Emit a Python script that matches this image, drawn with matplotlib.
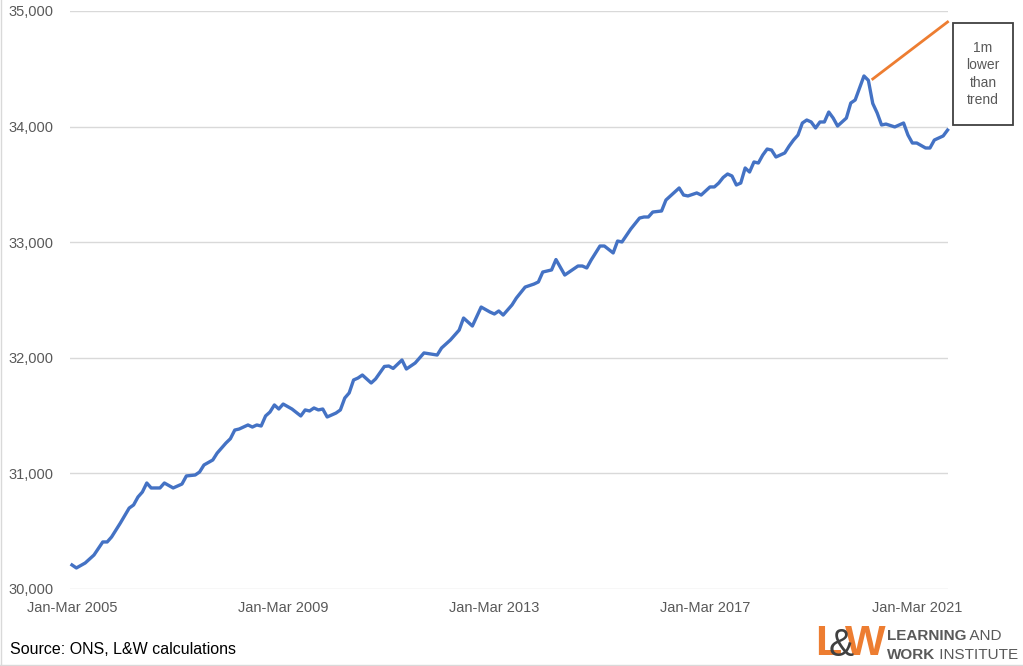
import matplotlib
matplotlib.use('Agg')
import matplotlib.pyplot as plt
from matplotlib.patches import Rectangle
from matplotlib.lines import Line2D
from matplotlib.ticker import FuncFormatter

plt.rcParams['font.family'] = ['Liberation Sans', 'DejaVu Sans']

# Данные: номер месяца от Jan-Mar 2005 и занятость (тыс.)
months = [0, 1, 3, 5, 7, 8, 9, 11, 13, 14, 15, 16, 17, 18, 20, 21, 23, 25, 26, 28,
          29, 30, 32, 33, 35, 36, 37, 38, 40, 41, 42, 43, 44, 45, 46, 47, 48, 50, 52, 53,
          54, 55, 56, 57, 58, 60, 61, 62, 63, 64, 65, 66, 68, 69, 71, 72, 73, 75, 76, 78,
          80, 83, 84, 86, 88, 89, 90, 91, 93, 95, 96, 97, 98, 100, 101, 103, 105, 106, 107, 109,
          110, 112, 115, 116, 117, 118, 120, 121, 123, 124, 125, 127, 129, 130, 131, 132, 134, 135, 136, 138,
          139, 140, 142, 143, 145, 146, 147, 148, 149, 150, 151, 152, 153, 154, 155, 156, 157, 158, 159, 160,
          162, 163, 164, 165, 166, 167, 168, 169, 170, 171, 172, 173, 174, 175, 176, 177, 178, 179, 180, 181,
          182, 183, 184, 185, 187, 189, 190, 191, 192, 194, 195, 196, 198, 199]
employment = [30208, 30182, 30225, 30294, 30407, 30407, 30450, 30571, 30700, 30727, 30796, 30839, 30917, 30874, 30874, 30917, 30874, 30908, 30978, 30986,
              31012, 31073, 31116, 31176, 31263, 31300, 31375, 31384, 31419, 31401, 31419, 31410, 31497, 31531, 31592, 31557, 31600, 31557, 31497, 31549,
              31540, 31566, 31549, 31557, 31488, 31522, 31549, 31652, 31696, 31808, 31825, 31851, 31782, 31817, 31925, 31929, 31908, 31981, 31903, 31955,
              32042, 32024, 32085, 32154, 32240, 32344, 32310, 32275, 32439, 32396, 32379, 32405, 32370, 32457, 32517, 32612, 32638, 32656, 32742, 32760,
              32850, 32716, 32794, 32794, 32777, 32846, 32967, 32967, 32907, 33010, 33002, 33114, 33209, 33218, 33218, 33261, 33270, 33365, 33400, 33469,
              33408, 33400, 33426, 33408, 33478, 33478, 33512, 33560, 33590, 33573, 33495, 33512, 33642, 33607, 33694, 33685, 33754, 33806, 33797, 33737,
              33772, 33832, 33884, 33927, 34031, 34057, 34040, 33988, 34040, 34040, 34126, 34074, 34005, 34040, 34074, 34204, 34230, 34334, 34438, 34400,
              34200, 34118, 34014, 34022, 33997, 34031, 33927, 33858, 33858, 33815, 33815, 33884, 33919, 33970]
assert len(months) == len(employment)

# Линия тренда
trend_months = [182, 199]
trend_values = [34412, 34905]

tick_pos = [0, 48, 96, 144, 192]
tick_labels = ['Jan-Mar 2005', 'Jan-Mar 2009', 'Jan-Mar 2013', 'Jan-Mar 2017', 'Jan-Mar 2021']
y_ticks = [30000, 31000, 32000, 33000, 34000, 35000]

W, H = 1023, 666
fig = plt.figure(figsize=(W / 100, H / 100), dpi=100)
ax = fig.add_axes([70 / W, 1 - 589 / H, (948 - 70) / W, (589 - 11) / H])

ax.plot(months, employment, color='#4472c4', linewidth=2.4, solid_joinstyle='round', clip_on=False)
ax.plot(trend_months, trend_values, color='#ed7d31', linewidth=2.0, clip_on=False)

ax.set_xlim(-0.45, 199.1)
ax.set_ylim(30000, 35000)
ax.set_yticks(y_ticks)
ax.yaxis.set_major_formatter(FuncFormatter(lambda v, p: f'{int(v):,}'))
ax.set_xticks(tick_pos)
ax.set_xticklabels(tick_labels)
ax.tick_params(axis='both', length=0, labelsize=10.5, colors='#595959')
ax.tick_params(axis='y', pad=12)
ax.tick_params(axis='x', pad=9)
ax.grid(axis='y', color='#d9d9d9', linewidth=1.0)
ax.set_axisbelow(True)
for s in ax.spines.values():
    s.set_visible(False)

# Подпись "1m lower than trend" в рамке
fig.patches.append(Rectangle((953 / W, 1 - 125 / H), 60 / W, 102 / H, transform=fig.transFigure,
                             fill=False, edgecolor='#404040', linewidth=1.3))
fig.text(983 / W, 1 - 74 / H, '1m\nlower\nthan\ntrend', ha='center', va='center',
         fontsize=10, color='#595959', linespacing=1.3)

# Источник
fig.text(10 / W, 1 - 650 / H, 'Source: ONS, L&W calculations', ha='left', va='center',
         fontsize=11.5, color='black')

# Логотип
fig.text(815 / W, 1 - 664 / H, 'L', fontsize=31, fontweight='bold', color='#ed7d31', ha='left', va='bottom')
fig.text(845 / W, 1 - 664 / H, 'W', fontsize=31, fontweight='bold', color='#ed7d31', ha='left', va='bottom')
fig.text(829 / W, 1 - 664 / H, '&', fontsize=27, color='#404040', ha='left', va='bottom')

renderer = fig.canvas.get_renderer()
for bold, rest, yc in [('LEARNING', ' AND', 636), ('WORK', ' INSTITUTE', 655)]:
    t = fig.text(887 / W, 1 - yc / H, bold, fontsize=11, fontweight='bold', color='#595959',
                 ha='left', va='center')
    bb = t.get_window_extent(renderer)
    fig.text(bb.x1 / W, 1 - yc / H, rest, fontsize=11, color='#595959', ha='left', va='center')

# Рамка рисунка слева и снизу
fig.lines.append(Line2D([0.001, 0.001], [0, 1], transform=fig.transFigure, color='#d9d9d9', linewidth=1))
fig.lines.append(Line2D([0, 1], [0.001, 0.001], transform=fig.transFigure, color='#d9d9d9', linewidth=1))

fig.savefig('out.png', dpi=100)
